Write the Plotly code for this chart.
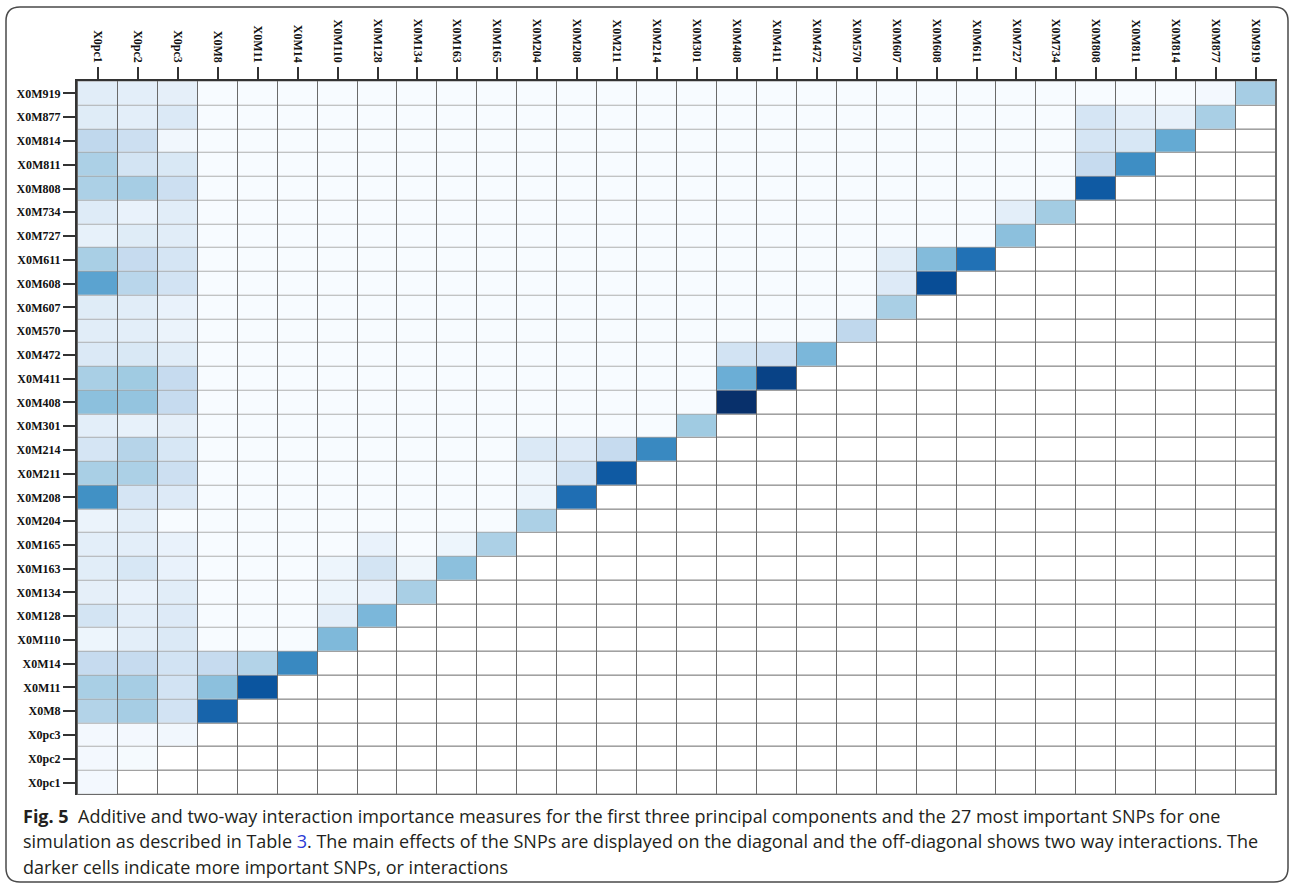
import plotly.graph_objects as go

# Variables in display order (bottom row / left column first)
labels = ["X0pc1", "X0pc2", "X0pc3", "X0M8", "X0M11", "X0M14", "X0M110", "X0M128",
          "X0M134", "X0M163", "X0M165", "X0M204", "X0M208", "X0M211", "X0M214",
          "X0M301", "X0M408", "X0M411", "X0M472", "X0M570", "X0M607", "X0M608",
          "X0M611", "X0M727", "X0M734", "X0M808", "X0M811", "X0M814", "X0M877",
          "X0M919"]

# Main (additive) effects on the diagonal, same order as labels
main_effect = [0.02, 0.01, 0.03, 0.80, 0.86, 0.66, 0.45, 0.46, 0.34, 0.42,
               0.33, 0.33, 0.76, 0.84, 0.66, 0.37, 1.00, 0.93, 0.46, 0.27,
               0.34, 0.89, 0.75, 0.42, 0.36, 0.84, 0.64, 0.52, 0.34, 0.35]

# Interactions with the principal components (rows above each PC, bottom to top)
pc1_inter = [0.02, 0.02, 0.31, 0.34, 0.25, 0.05, 0.18, 0.09, 0.11, 0.10,
             0.06, 0.63, 0.34, 0.17, 0.10, 0.42, 0.34, 0.14, 0.11, 0.12,
             0.55, 0.34, 0.08, 0.125, 0.33, 0.33, 0.27, 0.12, 0.11]
pc2_inter = [0.02, 0.35, 0.35, 0.25, 0.10, 0.10, 0.07, 0.16, 0.10, 0.10,
             0.17, 0.33, 0.30, 0.08, 0.40, 0.37, 0.15, 0.10, 0.11, 0.29,
             0.25, 0.12, 0.07, 0.35, 0.18, 0.22, 0.10, 0.10]
pc3_inter = [0.19, 0.19, 0.19, 0.14, 0.13, 0.11, 0.07, 0.07, 0.00, 0.13,
             0.22, 0.16, 0.09, 0.25, 0.25, 0.11, 0.06, 0.07, 0.19, 0.17,
             0.11, 0.11, 0.22, 0.15, 0.03, 0.14, 0.09]

# Non-negligible SNP x SNP interactions (row variable, column variable, importance)
snp_row = ["X0M11", "X0M14", "X0M14", "X0M128", "X0M134", "X0M134", "X0M163",
           "X0M163", "X0M163", "X0M165", "X0M165", "X0M208", "X0M211", "X0M211",
           "X0M214", "X0M214", "X0M214", "X0M411", "X0M472", "X0M472", "X0M608",
           "X0M611", "X0M611", "X0M734", "X0M811", "X0M814", "X0M814", "X0M877",
           "X0M877", "X0M877", "X0M919"]
snp_col = ["X0M8", "X0M8", "X0M11", "X0M110", "X0M110", "X0M128", "X0M110",
           "X0M128", "X0M134", "X0M128", "X0M163", "X0M204", "X0M204", "X0M208",
           "X0M204", "X0M208", "X0M211", "X0M408", "X0M408", "X0M411", "X0M607",
           "X0M607", "X0M608", "X0M727", "X0M808", "X0M808", "X0M811", "X0M808",
           "X0M811", "X0M814", "X0M877"]
snp_val = [0.42, 0.25, 0.31, 0.10, 0.05, 0.07, 0.05, 0.18, 0.04, 0.07, 0.05,
           0.05, 0.05, 0.19, 0.14, 0.13, 0.25, 0.50, 0.19, 0.21, 0.13, 0.11,
           0.44, 0.10, 0.25, 0.17, 0.16, 0.17, 0.10, 0.08, 0.02]

blues = [[0.0, "#f7fbff"], [0.125, "#deebf7"], [0.25, "#c6dbef"], [0.375, "#9ecae1"],
         [0.5, "#6baed6"], [0.625, "#4292c6"], [0.75, "#2171b5"], [0.875, "#08519c"],
         [1.0, "#08306b"]]

n = len(labels)
idx = {name: k for k, name in enumerate(labels)}

# Lower-triangular importance matrix: row i, column j <= i; other cells empty
z = [[(0.0 if j < i else None) for j in range(n)] for i in range(n)]
for i in range(n):
    z[i][i] = main_effect[i]
for k, v in enumerate(pc1_inter):
    z[k + 1][0] = v
for k, v in enumerate(pc2_inter):
    z[k + 2][1] = v
for k, v in enumerate(pc3_inter):
    z[k + 3][2] = v
for r, c, v in zip(snp_row, snp_col, snp_val):
    z[idx[r]][idx[c]] = v

pos = list(range(n))
GRID = "#6a6a6a"

fig = go.Figure()
# white cells for the whole grid (empty part of the triangle)
fig.add_trace(go.Heatmap(
    x=pos, y=pos, z=[[0] * n for _ in range(n)],
    colorscale=[[0, "#ffffff"], [1, "#ffffff"]], showscale=False,
    xgap=1, ygap=1, hoverinfo="skip"))
fig.add_trace(go.Heatmap(
    x=pos, y=pos, z=z, colorscale=blues, zmin=0, zmax=1, showscale=False,
    xgap=1, ygap=1, hoverongaps=False))

tick_font = dict(family="Liberation Serif", size=12, color="#111111")

fig.update_xaxes(
    side="top", range=[-0.525, n - 0.475], tickmode="array", tickvals=pos,
    ticktext=[f"<b>{t}</b>" for t in labels], tickangle=90, ticks="outside",
    ticklen=12, tickwidth=1.5, tickcolor="#333333", tickfont=tick_font,
    showline=True, linecolor="#333333", linewidth=2, showgrid=False,
    zeroline=False, fixedrange=True)
fig.update_yaxes(
    range=[-0.525, n - 0.475], tickmode="array", tickvals=pos,
    ticktext=[f"<b>{t}</b>" for t in labels], ticks="outside", ticklen=12,
    tickwidth=1.5, tickcolor="#333333", tickfont=tick_font, showline=True,
    linecolor="#333333", linewidth=2, showgrid=False, zeroline=False,
    fixedrange=True)

W, H = 1292, 885
ML, MR, MT, MB = 77, 15, 81, 90
PW, PH = W - ML - MR, H - MT - MB


def px(xp):
    return (xp - ML) / PW


def py(yp):
    return (H - MB - yp) / PH


# rounded outer frame
x0, y0, x1, y1, rad = 6, 7, 1288, 882, 14
path = (f"M {px(x0 + rad)},{py(y0)} L {px(x1 - rad)},{py(y0)} "
        f"Q {px(x1)},{py(y0)} {px(x1)},{py(y0 + rad)} "
        f"L {px(x1)},{py(y1 - rad)} Q {px(x1)},{py(y1)} {px(x1 - rad)},{py(y1)} "
        f"L {px(x0 + rad)},{py(y1)} Q {px(x0)},{py(y1)} {px(x0)},{py(y1 - rad)} "
        f"L {px(x0)},{py(y0 + rad)} Q {px(x0)},{py(y0)} {px(x0 + rad)},{py(y0)} Z")
fig.add_shape(type="path", path=path, xref="paper", yref="paper",
              line=dict(color="#4a4a4a", width=1.5), layer="above")

caption = [
    "<b>Fig. 5</b>  Additive and two-way interaction importance measures for the first "
    "three principal components and the 27 most important SNPs for one",
    "simulation as described in Table <span style='color:#2b3bd6'>3</span>. The main "
    "effects of the SNPs are displayed on the diagonal and the off-diagonal shows two "
    "way interactions. The",
    "darker cells indicate more important SNPs, or interactions",
]
for line, yc in zip(caption, [816, 841, 867]):
    fig.add_annotation(text=line, xref="paper", yref="paper", x=px(21), y=py(yc),
                       xanchor="left", yanchor="middle", showarrow=False,
                       font=dict(family="Open Sans", size=18, color="#231f20"))

fig.update_layout(
    width=W, height=H, margin=dict(l=ML, r=MR, t=MT, b=MB),
    plot_bgcolor=GRID, paper_bgcolor="#ffffff", showlegend=False)

fig.write_html("out.html")
